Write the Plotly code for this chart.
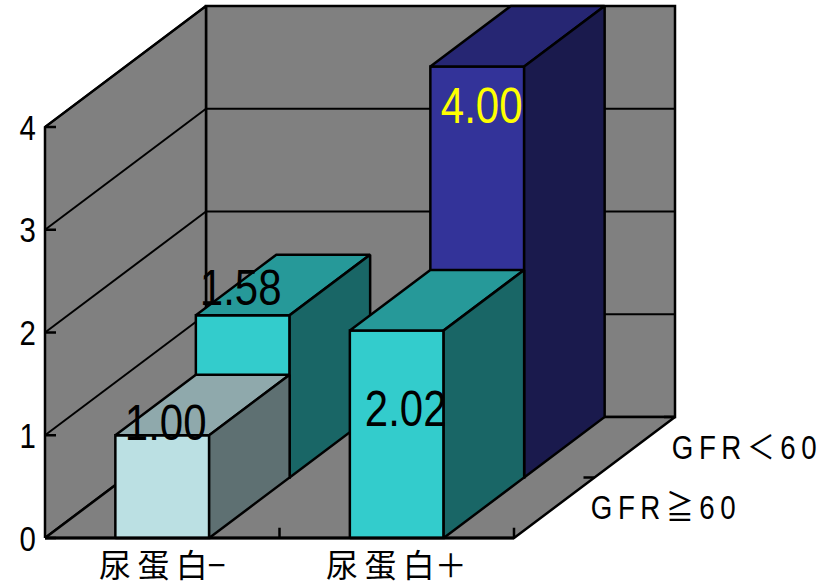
import plotly.graph_objects as go

# Chart data
categories = ["尿\u2009蛋\u2009白−", "尿\u2009蛋\u2009白＋"]
rows = ["G\u2009F\u2009R\u2009≧\u20096\u20090", "G\u2009F\u2009R\u2009＜\u20096\u20090"]
values_front = [1.00, 2.02]
values_back = [1.58, 4.00]
value_ticks = [0, 1, 2, 3, 4]

# Oblique projection: units of each axis expressed in screen pixels
UNIT_X = 234.5
UNIT_V = 102.75
DEPTH_X = 80.5
DEPTH_Y = 60.5
BAR_WIDTH = 0.4
N_CAT = len(categories)
N_ROW = len(rows)
V_MAX = value_ticks[-1]


def proj(x, v, d):
    return x * UNIT_X + d * DEPTH_X, v * UNIT_V + d * DEPTH_Y


WALL = "#808080"
LINE = "#000000"
fig = go.Figure()


def face(corners, fill):
    pts = [proj(*c) for c in corners]
    pts.append(pts[0])
    fig.add_trace(go.Scatter(
        x=[p[0] for p in pts], y=[p[1] for p in pts], mode="lines",
        fill="toself", fillcolor=fill, line=dict(color=LINE, width=2.5),
        hoverinfo="skip", showlegend=False))


def seg(a, b, width=2.5):
    pa, pb = proj(*a), proj(*b)
    fig.add_trace(go.Scatter(
        x=[pa[0], pb[0]], y=[pa[1], pb[1]], mode="lines",
        line=dict(color=LINE, width=width), hoverinfo="skip", showlegend=False))


def bar(cat, row, val, front, top, side):
    x0 = cat + 0.5 - BAR_WIDTH / 2
    x1 = cat + 0.5 + BAR_WIDTH / 2
    d0, d1 = row, row + 1
    face([(x0, 0, d0), (x1, 0, d0), (x1, val, d0), (x0, val, d0)], front)
    face([(x0, val, d0), (x1, val, d0), (x1, val, d1), (x0, val, d1)], top)
    face([(x1, 0, d0), (x1, 0, d1), (x1, val, d1), (x1, val, d0)], side)


# Walls and floor
face([(0, 0, N_ROW), (N_CAT, 0, N_ROW), (N_CAT, V_MAX, N_ROW), (0, V_MAX, N_ROW)], WALL)
face([(0, 0, 0), (0, 0, N_ROW), (0, V_MAX, N_ROW), (0, V_MAX, 0)], WALL)
face([(0, 0, 0), (N_CAT, 0, 0), (N_CAT, 0, N_ROW), (0, 0, N_ROW)], WALL)

# Gridlines across both walls
for t in value_ticks[1:]:
    seg((0, t, 0), (0, t, N_ROW), 2)
    seg((0, t, N_ROW), (N_CAT, t, N_ROW), 2)

# Tick marks on the value, category and depth axes
for t in value_ticks:
    seg((0, t, 0), (0.047, t, 0))
for c in range(1, N_CAT + 1):
    seg((c, 0, 0), (c, 0.1, 0))
for r in range(1, N_ROW + 1):
    seg((N_CAT, 0, r), (N_CAT - 0.047, 0, r))

# Bars, painted back row first
cyan = ("#33CCCC", "#269999", "#196666")
pale = ("#BBE0E3", "#8FA9AC", "#5E7072")
navy = ("#333399", "#262673", "#1A1A4D")
bar(0, 1, values_back[0], *cyan)
bar(1, 1, values_back[1], *navy)
bar(0, 0, values_front[0], *pale)
bar(1, 0, values_front[1], *cyan)

# Heavier baseline along the front of the floor
seg((0, 0, 0), (N_CAT, 0, 0), 3)

LATIN = "Liberation Sans, Noto Sans CJK JP, sans-serif"
CJK = "Noto Sans CJK JP, sans-serif"
annotations = []


def label(px, py, text, size, color="#000000", family=LATIN):
    annotations.append(dict(x=px, y=py, text=text, showarrow=False, xref="x", yref="y",
                            xanchor="center", yanchor="middle",
                            font=dict(size=size, color=color, family=family)))


# Value axis labels
for t in value_ticks:
    px, py = proj(0, t, 0)
    label(px - 18, py, str(t), 35)

# Category labels under the front edge
for i, name in enumerate(categories):
    px, py = proj(i + 0.5, 0, 0)
    label(px, py - 25, name, 32, family=CJK)

# Depth labels to the right of the floor
for i, name in enumerate(rows):
    px, py = proj(N_CAT, 0, i + 0.5)
    label(px + 109, py, name, 33)

# Bar value labels with their placement relative to each bar top
for cat, row, val, dx, dy, color in [
    (0, 0, values_front[0], 3, 12, "#000000"),
    (1, 0, values_front[1], 9, -79, "#000000"),
    (0, 1, values_back[0], -2, 27, "#000000"),
    (1, 1, values_back[1], 4, -39, "#FFFF00"),
]:
    px, py = proj(cat + 0.5, val, row)
    label(px + dx, py + dy, f"{val:.2f}", 50, color)

fig.update_layout(
    width=827, height=581, margin=dict(l=0, r=0, t=0, b=0),
    paper_bgcolor="#FFFFFF", plot_bgcolor="#FFFFFF", showlegend=False,
    annotations=annotations,
    xaxis=dict(range=[-45, 782], visible=False, fixedrange=True),
    yaxis=dict(range=[-43, 538], visible=False, fixedrange=True),
)

# The Latin labels use a condensed setting: narrow each glyph run about its own centre
condense_text = """
document.querySelectorAll('.annotation-text').forEach(function (t) {
  if (t.style.fontFamily.indexOf('Liberation') < 0) { return; }
  var b = t.getBBox();
  var c = b.x + b.width / 2;
  t.setAttribute('transform', 'translate(' + c + ',0) scale(0.84,1) translate(' + (-c) + ',0)');
});
"""
fig.write_html("out.html", config={"displayModeBar": False}, post_script=condense_text)
